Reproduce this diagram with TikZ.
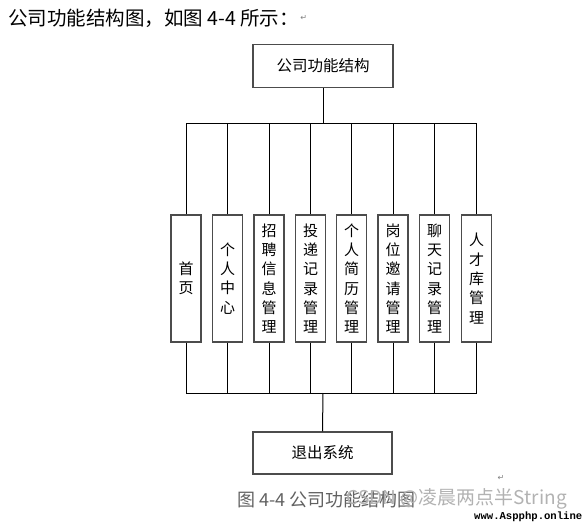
\documentclass[tikz,border=0pt]{standalone}
\usepackage{fontspec}
\setmainfont{Noto Sans CJK SC}
\newfontfamily\dejavu{DejaVu Sans}
\newfontfamily\wmono{Liberation Mono}
\begin{document}
\begin{tikzpicture}[x=1pt,y=-1pt,
  conn/.style={draw=black, line width=1pt},
  hbox/.style={draw=black!70, line width=1.1pt, fill=white, inner sep=0pt,
     minimum width=140pt, minimum height=43pt, font=\fontsize{15.5}{15.5}\selectfont},
  vbox/.style={draw=black!70, line width=1.1pt, fill=white, inner sep=0pt,
     minimum width=30pt, minimum height=127pt, align=center,
     font=\fontsize{15}{19.3}\selectfont},
  retmark/.style={text=black!50, font=\dejavu\fontsize{8}{8}\selectfont, inner sep=0pt}
]
\useasboundingbox (0,0) rectangle (583,522);

% header line
\node[anchor=west, inner sep=0pt, font=\fontsize{19.5}{19.5}\selectfont] (hdr) at (8,18)
  {公司功能结构图，如图 4-4 所示：};
\node[retmark, anchor=west] (hret) at ([xshift=1pt]hdr.east) {↵};

% top box
\node[hbox] (top) at (323,66) {公司功能结构};

% vertical boxes
\node[vbox] (b1) at (186,278.5) {首\\页};
\node[vbox] (b2) at (227.5,278.5) {个\\人\\中\\心};
\node[vbox] (b3) at (269,278.5) {招\\聘\\信\\息\\管\\理};
\node[vbox] (b4) at (310.5,278.5) {投\\递\\记\\录\\管\\理};
\node[vbox] (b5) at (351.5,278.5) {个\\人\\简\\历\\管\\理};
\node[vbox] (b6) at (393,278.5) {岗\\位\\邀\\请\\管\\理};
\node[vbox] (b7) at (434.5,278.5) {聊\\天\\记\\录\\管\\理};
\node[vbox] (b8) at (476.5,278.5) {人\\才\\库\\管\\理};

% exit box
\node[hbox, minimum width=139pt, minimum height=42pt] (exit) at (322.5,453) {退出系统};

\coordinate (tb) at (323,123);
\coordinate (bb) at (323,393);

% top bus
\draw[conn] (top.south) -- (tb);
\draw[conn] (b1.north |- tb) -- (b8.north |- tb);
\foreach \i in {1,...,8} {
  \draw[conn] (b\i.north) -- (b\i.north |- tb);
  \draw[conn] (b\i.south) -- (b\i.south |- bb);
}
% bottom bus
\draw[conn] (b1.south |- bb) -- (b8.south |- bb);
\draw[conn] (bb) -- (exit.north);

% return mark after diagram
\node[retmark] (dret) at (501,478) {↵};

% caption
\node[anchor=west, inner sep=0pt, text=black!62, font=\fontsize{18}{18}\selectfont] (cap) at (237,500)
  {图 4-4 公司功能结构图};
% watermark
\node[anchor=east, inner sep=0pt, text=black!30, font=\fontsize{19}{19}\selectfont] (wm) at (567,499)
  {CSDN @凌晨两点半String};
\node[anchor=south east, inner sep=0.5pt, text=black, font=\wmono\bfseries\fontsize{10.6}{10.6}\selectfont] (site) at (583,522)
  {www.Aspphp.online};
\end{tikzpicture}
\end{document}
